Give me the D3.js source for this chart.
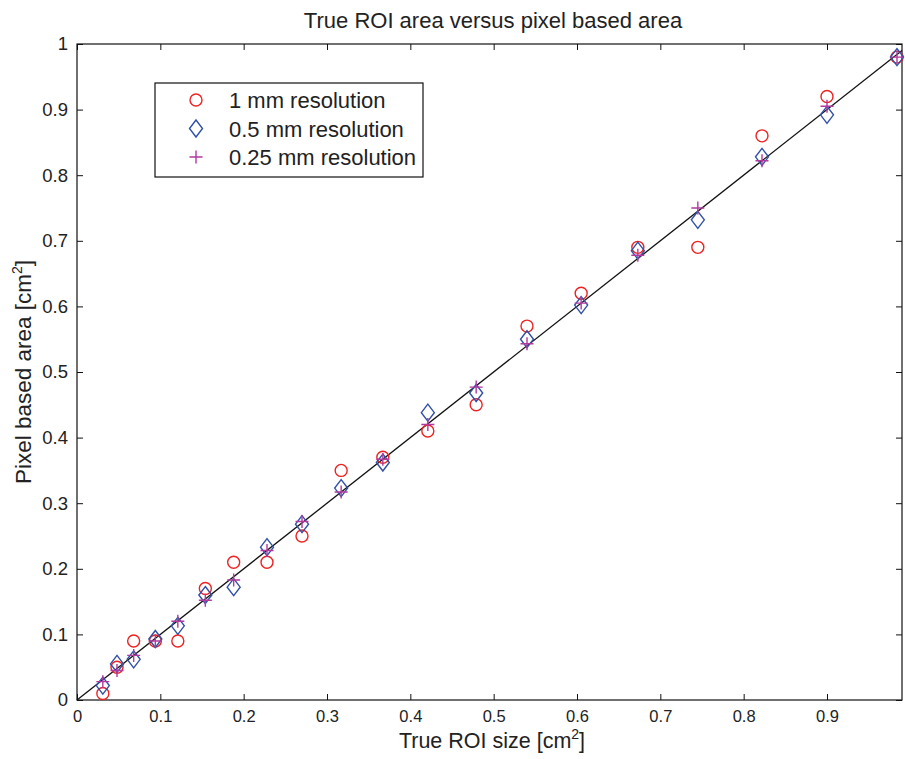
<!DOCTYPE html>
<html><head><meta charset="utf-8">
<script src="https://cdn.jsdelivr.net/npm/d3@7"></script>
<style>body{margin:0;background:#fff}text{font-family:"Liberation Sans",Arial,sans-serif;fill:#222}</style>
</head><body><svg id="c" width="905" height="759"></svg>
<script>
const trueSize = [0.031,0.048,0.068,0.094,0.121,0.154,0.188,0.228,0.270,0.317,0.367,0.421,0.479,0.540,0.605,0.673,0.745,0.822,0.900,0.984];
const res1mm   = [0.01,0.05,0.09,0.09,0.09,0.17,0.21,0.21,0.25,0.35,0.37,0.41,0.45,0.57,0.62,0.69,0.69,0.86,0.92,0.98];
const res05mm  = [0.022,0.055,0.062,0.093,0.113,0.160,0.172,0.233,0.268,0.323,0.362,0.438,0.468,0.550,0.602,0.685,0.732,0.828,0.892,0.980];
const res025mm = [0.028,0.045,0.068,0.090,0.120,0.152,0.183,0.228,0.272,0.317,0.367,0.420,0.477,0.543,0.605,0.678,0.750,0.822,0.905,0.980];
const xTicks = [0,0.1,0.2,0.3,0.4,0.5,0.6,0.7,0.8,0.9];
const yTicks = [0,0.1,0.2,0.3,0.4,0.5,0.6,0.7,0.8,0.9,1];
const seriesNames = ["1 mm resolution","0.5 mm resolution","0.25 mm resolution"];
const seriesColors = ["#ee2222","#3050a8","#b03aa0"];
const seriesShapes = ["circle","diamond","plus"];

const svg = d3.select("#c");
const L=77,R=902,T=44,B=700;
const x = d3.scaleLinear().domain([0,0.99]).range([L,R]);
const y = d3.scaleLinear().domain([0,1]).range([B,T]);

svg.append("rect").attr("x",L).attr("y",T).attr("width",R-L).attr("height",B-T)
  .attr("fill","none").attr("stroke","#111").attr("stroke-width",1.2);

const fmt = d=> d===0?"0":(d===1?"1":d3.format(".1f")(d));
const tl=6;
const ff="'Liberation Sans',Arial,sans-serif";
const xa = svg.append("g").attr("transform",`translate(0,${B})`)
  .call(d3.axisBottom(x).tickValues(xTicks).tickFormat(fmt).tickSizeInner(-tl).tickSizeOuter(0).tickPadding(10));
xa.select(".domain").remove();
xa.selectAll("text").attr("font-size",16.5).style("font-family",ff).attr("fill","#222");
xa.selectAll("line").attr("stroke","#111");
const xt = svg.append("g").attr("transform",`translate(0,${T})`)
  .call(d3.axisTop(x).tickValues(xTicks).tickFormat("").tickSizeInner(-tl).tickSizeOuter(0));
xt.select(".domain").remove(); xt.selectAll("line").attr("stroke","#111");
const ya = svg.append("g").attr("transform",`translate(${L},0)`)
  .call(d3.axisLeft(y).tickValues(yTicks).tickFormat(fmt).tickSizeInner(-tl).tickSizeOuter(0).tickPadding(9));
ya.select(".domain").remove();
ya.selectAll("text").attr("font-size",18.5).style("font-family",ff).attr("fill","#222");
ya.selectAll("line").attr("stroke","#111");
const yr = svg.append("g").attr("transform",`translate(${R},0)`)
  .call(d3.axisRight(y).tickValues(yTicks).tickFormat("").tickSizeInner(-tl).tickSizeOuter(0));
yr.select(".domain").remove(); yr.selectAll("line").attr("stroke","#111");

svg.append("line").attr("x1",x(0)).attr("y1",y(0)).attr("x2",x(0.99)).attr("y2",y(0.99))
  .attr("stroke","#111").attr("stroke-width",1.3);

function marker(g, shape, color, cx, cy){
  if(shape==="circle"){
    g.append("circle").attr("cx",cx).attr("cy",cy).attr("r",6).attr("fill","none").attr("stroke",color).attr("stroke-width",1.4);
  } else if(shape==="diamond"){
    g.append("path").attr("d",`M${cx},${cy-8.5}L${cx+6.5},${cy}L${cx},${cy+8.5}L${cx-6.5},${cy}Z`).attr("fill","none").attr("stroke",color).attr("stroke-width",1.4);
  } else {
    g.append("path").attr("d",`M${cx-6.5},${cy}H${cx+6.5}M${cx},${cy-6.5}V${cy+6.5}`).attr("fill","none").attr("stroke",color).attr("stroke-width",1.4);
  }
}
const seriesData=[res1mm,res05mm,res025mm];
const pg = svg.append("g");
seriesData.forEach((vals,si)=>{
  vals.forEach((v,i)=>marker(pg, seriesShapes[si], seriesColors[si], x(trueSize[i]), y(v)));
});

const lg = svg.append("g");
lg.append("rect").attr("x",155).attr("y",83).attr("width",268).attr("height",94).attr("fill","#fff").attr("stroke","#111").attr("stroke-width",1.2);
seriesNames.forEach((n,i)=>{
  const cy = 100 + i*28.5;
  marker(lg, seriesShapes[i], seriesColors[i], 196, cy);
  lg.append("text").attr("x",229).attr("y",cy+8).attr("font-size",22).text(n);
});

svg.append("text").attr("x",493).attr("y",28).attr("text-anchor","middle").attr("font-size",22).text("True ROI area versus pixel based area");
const xl = svg.append("text").attr("x",492).attr("y",748).attr("text-anchor","middle").attr("font-size",21.5);
xl.append("tspan").text("True ROI size [cm");
xl.append("tspan").attr("font-size",14).attr("dy",-9).text("2");
xl.append("tspan").attr("dy",9).text("]");
const yl = svg.append("text").attr("transform","translate(31,372) rotate(-90)").attr("text-anchor","middle").attr("font-size",22.5);
yl.append("tspan").text("Pixel based area [cm");
yl.append("tspan").attr("font-size",14).attr("dy",-9).text("2");
yl.append("tspan").attr("dy",9).text("]");
</script></body></html>
